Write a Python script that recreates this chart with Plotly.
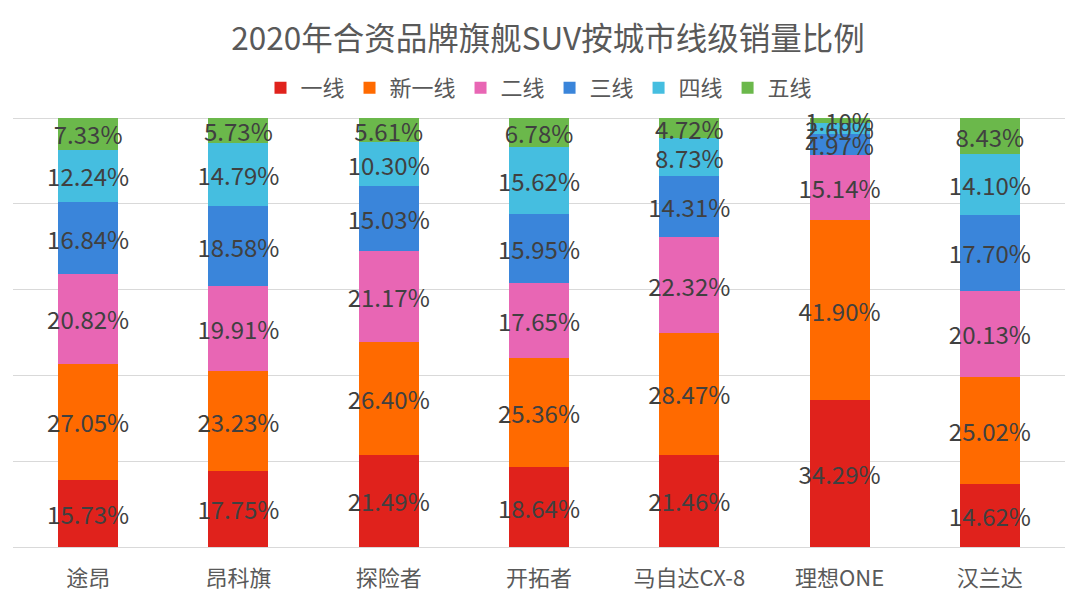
import plotly.graph_objects as go

categories = ["途昂", "昂科旗", "探险者", "开拓者", "马自达CX-8", "理想ONE", "汉兰达"]
series_names = ["一线", "新一线", "二线", "三线", "四线", "五线"]
tier1 = [15.73, 17.75, 21.49, 18.64, 21.46, 34.29, 14.62]
tier_new1 = [27.05, 23.23, 26.40, 25.36, 28.47, 41.90, 25.02]
tier2 = [20.82, 19.91, 21.17, 17.65, 22.32, 15.14, 20.13]
tier3 = [16.84, 18.58, 15.03, 15.95, 14.31, 4.97, 17.70]
tier4 = [12.24, 14.79, 10.30, 15.62, 8.73, 2.60, 14.10]
tier5 = [7.33, 5.73, 5.61, 6.78, 4.72, 1.10, 8.43]

values = [tier1, tier_new1, tier2, tier3, tier4, tier5]
colors = ["#E0221C", "#FF6A00", "#E866B4", "#3A85DA", "#45BEE0", "#6BB84B"]

font_family = "Noto Sans CJK SC, Microsoft YaHei, sans-serif"

fig = go.Figure()
for name, vals, col in zip(series_names, values, colors):
    fig.add_trace(go.Bar(
        x=categories, y=vals, name=name,
        marker=dict(color=col, line=dict(width=0)),
        text=[f"{v:.2f}%" for v in vals],
        textposition="inside",
        insidetextanchor="middle",
        constraintext="none",
        textangle=0,
        textfont=dict(size=24, color="#404040", family=font_family),
        cliponaxis=False,
    ))

fig.update_layout(
    barmode="stack",
    bargap=0.6,
    width=1080, height=608,
    margin=dict(l=5, r=23, t=108, b=69, autoexpand=False),
    paper_bgcolor="white", plot_bgcolor="white",
    font=dict(family=font_family, color="#595959"),
    uniformtext=dict(minsize=24, mode="show"),
    title=dict(text="2020年合资品牌旗舰SUV按城市线级销量比例",
               x=0.5, xanchor="center", y=1 - 31 / 608, yanchor="middle",
               font=dict(size=31.5, color="#595959", family=font_family)),
    legend=dict(orientation="h", x=0.5, xanchor="center",
                yref="container", y=1 - 80 / 608, yanchor="middle",
                font=dict(size=22, color="#595959", family=font_family),
                traceorder="normal", itemwidth=30),
    showlegend=True,
)
fig.update_xaxes(showline=False, ticks="outside", ticklen=12, tickcolor="rgba(0,0,0,0)",
                 tickfont=dict(size=22, color="#595959", family=font_family))
fig.update_yaxes(range=[0, 100.5], tickvals=[0, 20, 40, 60, 80, 100], showticklabels=False,
                 gridcolor="#D9D9D9", gridwidth=1, zeroline=True, zerolinecolor="#D9D9D9", zerolinewidth=1)

fig.write_html("out.html")
